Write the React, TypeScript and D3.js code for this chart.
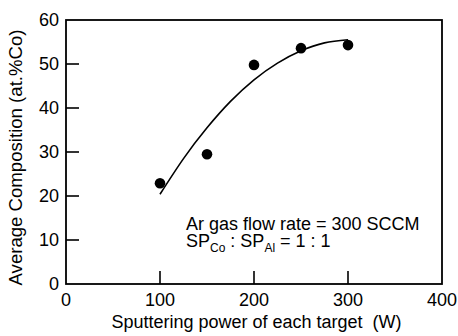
import { useEffect, useRef } from "react";
import * as d3 from "d3";

// measured points
const power = [100, 150, 200, 250, 300];
const composition = [22.9, 29.5, 49.8, 53.6, 54.3];

// fitted curve
const fitPower = [100, 125, 150, 175, 200, 225, 250, 275, 300];
const fitComposition = [20.4, 28.5, 35.5, 41.5, 46.4, 50.2, 53.0, 54.8, 55.5];

const xTicks = [0, 100, 200, 300, 400];
const yTicks = [0, 10, 20, 30, 40, 50, 60];

const W = 458;
const H = 336;
const margin = { top: 20, right: 16, bottom: 52, left: 66 };
const FONT = "'Liberation Sans', Arial, Helvetica, sans-serif";

const App = () => {
  const ref = useRef<SVGSVGElement>(null);

  useEffect(() => {
    const svg = d3.select(ref.current);
    svg.selectAll("*").remove();

    const x = d3.scaleLinear().domain([0, 400]).range([margin.left, W - margin.right]);
    const y = d3.scaleLinear().domain([0, 60]).range([H - margin.bottom, margin.top]);

    const g = svg.append("g");

    // inner ticks
    g.selectAll("line.xt")
      .data(xTicks.slice(1, -1))
      .join("line")
      .attr("x1", (d) => x(d))
      .attr("x2", (d) => x(d))
      .attr("y1", y(0))
      .attr("y2", y(0) - 13)
      .attr("stroke", "#000")
      .attr("stroke-width", 1.6);

    g.selectAll("line.yt")
      .data(yTicks.slice(1, -1))
      .join("line")
      .attr("x1", x(0))
      .attr("x2", x(0) + 13)
      .attr("y1", (d) => y(d))
      .attr("y2", (d) => y(d))
      .attr("stroke", "#000")
      .attr("stroke-width", 1.6);

    // frame
    g.append("rect")
      .attr("x", x(0))
      .attr("y", y(60))
      .attr("width", x(400) - x(0))
      .attr("height", y(0) - y(60))
      .attr("fill", "none")
      .attr("stroke", "#000")
      .attr("stroke-width", 1.8);

    // tick labels
    g.selectAll("text.xl")
      .data(xTicks)
      .join("text")
      .attr("x", (d) => x(d))
      .attr("y", 305.5)
      .attr("text-anchor", "middle")
      .attr("font-family", FONT)
      .attr("font-size", 18)
      .text((d) => d);

    g.selectAll("text.yl")
      .data(yTicks)
      .join("text")
      .attr("x", x(0) - 7)
      .attr("y", (d) => y(d))
      .attr("dy", "0.36em")
      .attr("text-anchor", "end")
      .attr("font-family", FONT)
      .attr("font-size", 18)
      .text((d) => d);

    // axis titles
    g.append("text")
      .attr("x", (x(0) + x(400)) / 2 + 2.5)
      .attr("y", 327.5)
      .attr("text-anchor", "middle")
      .attr("font-family", FONT)
      .attr("font-size", 18)
      .attr("xml:space", "preserve")
      .text("Sputtering power of each target  (W)");

    g.append("text")
      .attr("transform", `translate(22,157.5) rotate(-90)`)
      .attr("text-anchor", "middle")
      .attr("font-family", FONT)
      .attr("font-size", 18.6)
      .text("Average Composition (at.%Co)");

    // fitted curve
    const line = d3
      .line<number>()
      .x((d, i) => x(fitPower[i]))
      .y((d) => y(d))
      .curve(d3.curveNatural);
    g.append("path")
      .attr("d", line(fitComposition))
      .attr("fill", "none")
      .attr("stroke", "#000")
      .attr("stroke-width", 1.6);

    // points
    g.selectAll("circle")
      .data(composition)
      .join("circle")
      .attr("cx", (d, i) => x(power[i]))
      .attr("cy", (d) => y(d))
      .attr("r", 5.3)
      .attr("fill", "#000");

    // annotation
    const note = g.append("g").attr("font-family", FONT).attr("font-size", 18);
    note.append("text").attr("x", 186).attr("y", 230).text("Ar gas flow rate = 300 SCCM");
    const t2 = note.append("text").attr("x", 186).attr("y", 246.5);
    t2.append("tspan").text("SP");
    t2.append("tspan").attr("font-size", 12).attr("dy", 5).text("Co");
    t2.append("tspan").attr("dy", -5).text(" : SP");
    t2.append("tspan").attr("font-size", 12).attr("dy", 5).text("Al");
    t2.append("tspan").attr("dy", -5).text(" = 1 : 1");
  }, []);

  return (
    <svg
      ref={ref}
      width={W}
      height={H}
      style={{ position: "absolute", left: 0, top: 0, background: "#fff" }}
    />
  );
};

export default App;
